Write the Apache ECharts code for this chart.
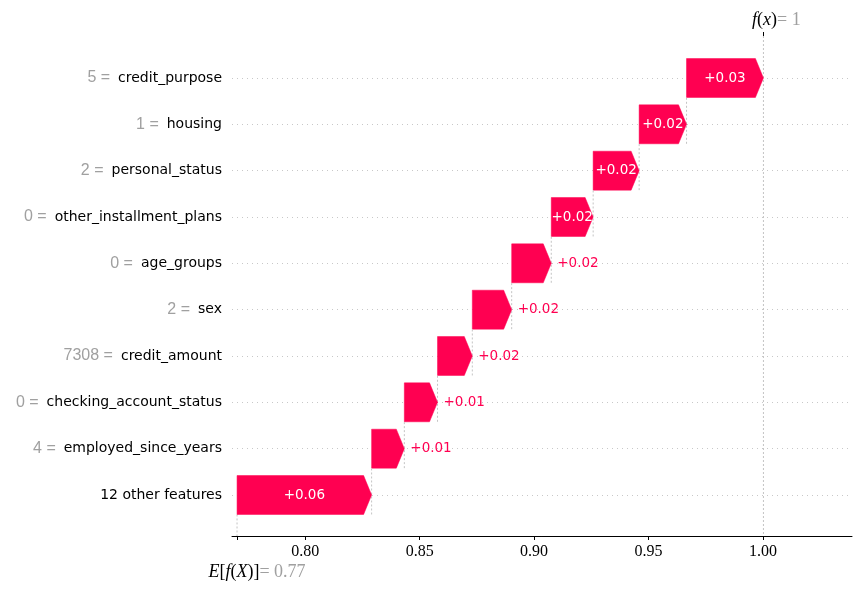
<!DOCTYPE html>
<html>
<head>
<meta charset="utf-8">
<script src="https://cdn.jsdelivr.net/npm/echarts@6/dist/echarts.min.js"></script>
<style>html,body{margin:0;background:#fff}#chart{width:860px;height:590px}</style>
</head>
<body>
<div id="chart"></div>
<script>
// rows top to bottom, as in the picture
var features = ['credit_purpose', 'housing', 'personal_status', 'other_installment_plans', 'age_groups',
  'sex', 'credit_amount', 'checking_account_status', 'employed_since_years', '12 other features'];
var featureValues = ['5', '1', '2', '0', '0', '2', '7308', '0', '4', ''];
var shapValues = [0.0336, 0.0207, 0.0201, 0.0183, 0.0173, 0.0172, 0.0152, 0.0145, 0.0143, 0.0588];
var baseValue = 0.7702;
var tickValues = [0.80, 0.85, 0.90, 0.95, 1.00];

var pink = '#ff0051';
var n = features.length;

// build the waterfall from the bottom row up
var bars = [];
var acc = baseValue;
for (var i = n - 1; i >= 0; i--) {
  bars[i] = [acc, acc + shapValues[i], i, shapValues[i]];
  acc += shapValues[i];
}
var fx = acc;

function fmt(v) { return String(parseFloat(v.toFixed(2))); }

function renderItem(params, api) {
  var x0 = api.value(0), x1 = api.value(1), row = api.value(2), v = api.value(3);
  var p0 = api.coord([x0, row]), p1 = api.coord([x1, row]);
  var band = Math.abs(api.coord([x0, 1])[1] - api.coord([x0, 0])[1]);
  var hh = band * 0.42;
  var yc = p0[1];
  var head = Math.min(8, p1[0] - p0[0]);
  var cs = params.coordSys;
  var dash = {stroke: '#c4c4c4', lineWidth: 1, lineDash: [2, 2]};
  var children = [];
  if (row > 0) {
    var up = api.coord([x1, row - 1]);
    children.push({type: 'line', shape: {x1: p1[0], y1: yc + hh, x2: p1[0], y2: up[1] + hh}, style: dash});
  } else {
    children.push({type: 'line', shape: {x1: p1[0], y1: cs.y - 42, x2: p1[0], y2: cs.y + cs.height + 41}, style: dash});
  }
  if (row === n - 1) {
    children.push({type: 'line', shape: {x1: p0[0], y1: yc + hh, x2: p0[0], y2: cs.y + cs.height + 41}, style: dash});
  }
  children.push({
    type: 'polygon',
    shape: {points: [[p0[0], yc - hh], [p1[0] - head, yc - hh], [p1[0], yc], [p1[0] - head, yc + hh], [p0[0], yc + hh]]},
    style: {fill: pink, stroke: pink, lineWidth: 0.5}
  });
  var txt = '+' + v.toFixed(2);
  var inside = (p1[0] - p0[0]) > 41;
  children.push({
    type: 'text',
    z2: 10,
    style: {
      text: txt,
      x: inside ? (p0[0] + p1[0]) / 2 : p1[0] + 6,
      y: yc,
      align: inside ? 'center' : 'left',
      verticalAlign: 'middle',
      fill: inside ? '#fff' : pink,
      fontSize: 13.5,
      fontFamily: 'DejaVu Sans'
    }
  });
  return {type: 'group', children: children};
}

var serif = 'Liberation Serif';
var chart = echarts.init(document.getElementById('chart'));
var option = {
  animation: false,
  grid: {left: 232, right: 8, top: 78, bottom: 95},
  xAxis: [
    {
      type: 'value', min: 0.768, max: 1.0389, position: 'bottom', offset: 41,
      axisLine: {show: true, lineStyle: {color: '#000', width: 1}},
      axisTick: {show: true, customValues: tickValues, length: 4, lineStyle: {color: '#000'}},
      axisLabel: {customValues: tickValues, formatter: function (v) { return v.toFixed(2); },
        fontFamily: serif, fontSize: 16, color: '#000', margin: 8},
      splitLine: {show: false}
    },
    {
      type: 'value', min: 0.768, max: 1.0389, position: 'bottom', offset: 41,
      axisLine: {show: false},
      axisTick: {show: true, customValues: [baseValue], length: 4, lineStyle: {color: '#000'}},
      axisLabel: {
        customValues: [baseValue], margin: 27,
        formatter: function () {
          return '{s|}{i|E}{u|[}{i|f}{u|(}{i|X}{u|)]}{g|= ' + fmt(baseValue) + '}';
        },
        rich: {
          s: {width: 40},
          i: {fontFamily: serif, fontStyle: 'italic', fontSize: 18, color: '#000'},
          u: {fontFamily: serif, fontSize: 18, color: '#000'},
          g: {fontFamily: serif, fontSize: 18, color: '#a0a0a0'}
        }
      },
      splitLine: {show: false}
    },
    {
      type: 'value', min: 0.768, max: 1.0389, position: 'top', offset: 42,
      axisLine: {show: false},
      axisTick: {show: true, customValues: [fx], length: 4, lineStyle: {color: '#000'}},
      axisLabel: {
        customValues: [fx], margin: 7,
        formatter: function () {
          return '{s|}{i|f}{u|(}{i|x}{u|)}{g|= ' + fmt(fx) + '}';
        },
        rich: {
          s: {width: 26},
          i: {fontFamily: serif, fontStyle: 'italic', fontSize: 18, color: '#000'},
          u: {fontFamily: serif, fontSize: 18, color: '#000'},
          g: {fontFamily: serif, fontSize: 18, color: '#a0a0a0'}
        }
      },
      splitLine: {show: false}
    }
  ],
  yAxis: {
    type: 'category', data: features, inverse: true, boundaryGap: false,
    axisLine: {show: false}, axisTick: {show: false},
    splitLine: {show: true, lineStyle: {type: [1, 4], color: '#c8c8c8', width: 1}},
    axisLabel: {
      margin: 10,
      formatter: function (name) {
        var k = features.indexOf(name);
        var fv = featureValues[k];
        return fv ? '{v|' + fv + ' =}{n|' + name + '}' : '{n|' + name + '}';
      },
      rich: {
        v: {fontFamily: 'Liberation Sans', fontSize: 16, color: '#a0a0a0'},
        n: {fontFamily: 'DejaVu Sans', fontSize: 14, color: '#000', padding: [0, 0, 0, 8]}
      }
    }
  },
  series: [{
    type: 'custom',
    xAxisIndex: 0,
    renderItem: renderItem,
    clip: false,
    encode: {x: [0, 1], y: 2},
    data: bars
  }]
};
chart.setOption(option);
</script>
</body>
</html>
